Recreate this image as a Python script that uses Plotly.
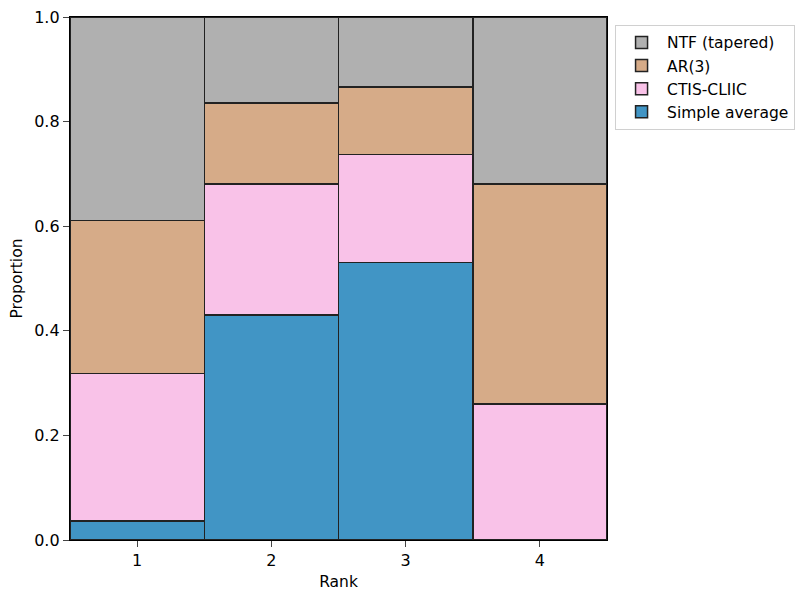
import plotly.graph_objects as go

ranks = [1, 2, 3, 4]
simple_average = [0.036, 0.430, 0.531, 0.0]
ctis_cliic = [0.282, 0.251, 0.206, 0.260]
ar3 = [0.293, 0.155, 0.129, 0.421]
ntf_tapered = [0.389, 0.164, 0.134, 0.319]

series = [
    ("Simple average", simple_average, "#4195c5"),
    ("CTIS-CLIIC", ctis_cliic, "#f9c2e8"),
    ("AR(3)", ar3, "#d6ab88"),
    ("NTF (tapered)", ntf_tapered, "#b0b0b0"),
]

fig = go.Figure()
for name, vals, col in series:
    fig.add_trace(go.Bar(
        x=ranks, y=vals, name=name, width=1,
        marker=dict(color=col, line=dict(color="#222222", width=1.5)),
    ))

fig.update_layout(
    barmode="stack",
    width=794, height=585,
    margin=dict(l=62, r=195, t=9, b=53, autoexpand=False),
    plot_bgcolor="white", paper_bgcolor="white",
    font=dict(family="DejaVu Sans", size=16, color="black"),
    legend=dict(x=1.015, y=0.985, xanchor="left", yanchor="top",
                bordercolor="#d0d0d0", borderwidth=1, traceorder="reversed",
                itemwidth=41, font=dict(size=15.5)),
    xaxis=dict(range=[0.5, 4.5], tickvals=ranks, ticks="outside", ticklen=6,
               showline=True, linecolor="black", linewidth=1.3, mirror=True,
               showgrid=False, zeroline=False, automargin=False,
               ticklabeloverflow="allow", tickfont=dict(size=16),
               title=dict(text="Rank", standoff=6, font=dict(size=15.5))),
    yaxis=dict(range=[0, 1], tickvals=[0, 0.2, 0.4, 0.6, 0.8, 1.0], tickformat=".1f",
               ticks="outside", ticklen=6, showline=True, linecolor="black",
               linewidth=1.3, mirror=True, showgrid=False, zeroline=False,
               automargin=False, ticklabeloverflow="allow", tickfont=dict(size=16),
               title=dict(text="Proportion", standoff=8, font=dict(size=15.5))),
)
fig.write_html("out.html")
